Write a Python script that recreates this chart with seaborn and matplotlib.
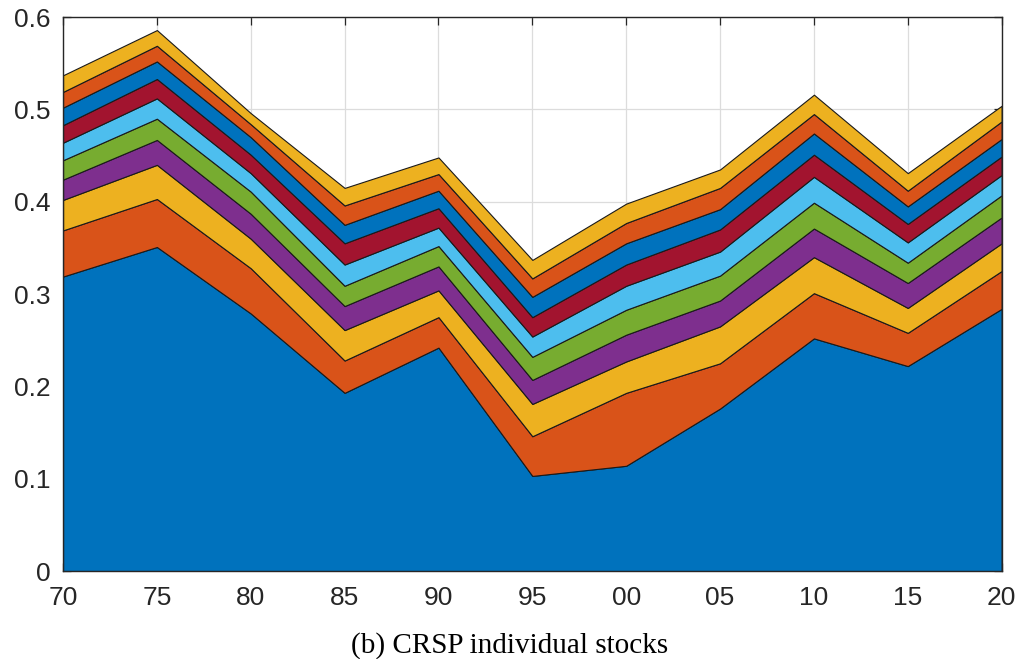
import numpy as np
import pandas as pd
import matplotlib
matplotlib.use("Agg")
import matplotlib.pyplot as plt
import seaborn as sns

# Years and their two-digit tick labels
years = [1970, 1975, 1980, 1985, 1990, 1995, 2000, 2005, 2010, 2015, 2020]
year_labels = ["70", "75", "80", "85", "90", "95", "00", "05", "10", "15", "20"]

# Contribution of each component (bottom to top of the stack)
comp1 = [0.319, 0.351, 0.279, 0.193, 0.242, 0.103, 0.114, 0.176, 0.252, 0.222, 0.284]
comp2 = [0.050, 0.052, 0.049, 0.035, 0.033, 0.043, 0.079, 0.049, 0.049, 0.036, 0.041]
comp3 = [0.033, 0.037, 0.032, 0.033, 0.029, 0.035, 0.034, 0.040, 0.039, 0.027, 0.030]
comp4 = [0.022, 0.027, 0.027, 0.026, 0.026, 0.026, 0.029, 0.028, 0.031, 0.027, 0.028]
comp5 = [0.021, 0.023, 0.024, 0.022, 0.022, 0.025, 0.027, 0.027, 0.028, 0.022, 0.024]
comp6 = [0.019, 0.022, 0.020, 0.023, 0.020, 0.022, 0.026, 0.026, 0.028, 0.022, 0.022]
comp7 = [0.019, 0.021, 0.020, 0.023, 0.021, 0.021, 0.023, 0.024, 0.024, 0.020, 0.020]
comp8 = [0.019, 0.019, 0.019, 0.020, 0.019, 0.022, 0.023, 0.022, 0.023, 0.019, 0.019]
comp9 = [0.017, 0.017, 0.014, 0.021, 0.018, 0.020, 0.022, 0.023, 0.021, 0.017, 0.019]
comp10 = [0.018, 0.017, 0.012, 0.019, 0.018, 0.020, 0.021, 0.020, 0.021, 0.019, 0.017]

y_ticks = [0, 0.1, 0.2, 0.3, 0.4, 0.5, 0.6]
y_tick_labels = ["0", "0.1", "0.2", "0.3", "0.4", "0.5", "0.6"]
caption = "(b) CRSP individual stocks"

components = [comp1, comp2, comp3, comp4, comp5, comp6, comp7, comp8, comp9, comp10]
df = pd.DataFrame({f"c{i + 1}": c for i, c in enumerate(components)}, index=years)

# Classic seven-colour cycle, wrapping around for the last three layers
base_cycle = ["#0072BD", "#D95319", "#EDB120", "#7E2F8E",
              "#77AC30", "#4DBEEE", "#A2142F"]
palette = sns.color_palette(base_cycle + base_cycle[:3])

sns.set_style("white")
plt.rcParams["font.family"] = ["Liberation Sans", "DejaVu Sans"]

fig = plt.figure(figsize=(10.2, 6.59), dpi=100)
ax = fig.add_axes([0.0618, 0.1335, 0.9202, 0.8405])

ax.stackplot(df.index, [df[c] for c in df.columns], colors=palette,
             edgecolor="#1a1a1a", linewidth=0.8, zorder=2)

ax.set_xlim(1970, 2020)
ax.set_ylim(0, 0.6)
ax.set_xticks(years)
ax.set_xticklabels(year_labels)
ax.set_yticks(y_ticks)
ax.set_yticklabels(y_tick_labels)

ax.grid(True, color="#dcdcdc", linewidth=0.9, zorder=0)
ax.set_axisbelow(True)

for side in ["left", "right", "top", "bottom"]:
    ax.spines[side].set_visible(True)
    ax.spines[side].set_color("#262626")
    ax.spines[side].set_linewidth(1.0)
    ax.spines[side].set_zorder(5)

ax.tick_params(direction="in", length=6, width=0.9, color="#262626",
               labelsize=19, labelcolor="#262626",
               top=True, right=True, bottom=True, left=True)
ax.tick_params(axis="x", pad=10.5)
ax.tick_params(axis="y", pad=9)

fig.text(0.5, 0.021, caption, ha="center", va="center",
         family=["Liberation Serif", "DejaVu Serif"], fontsize=21, color="black")

fig.savefig("out.png", dpi=100)
